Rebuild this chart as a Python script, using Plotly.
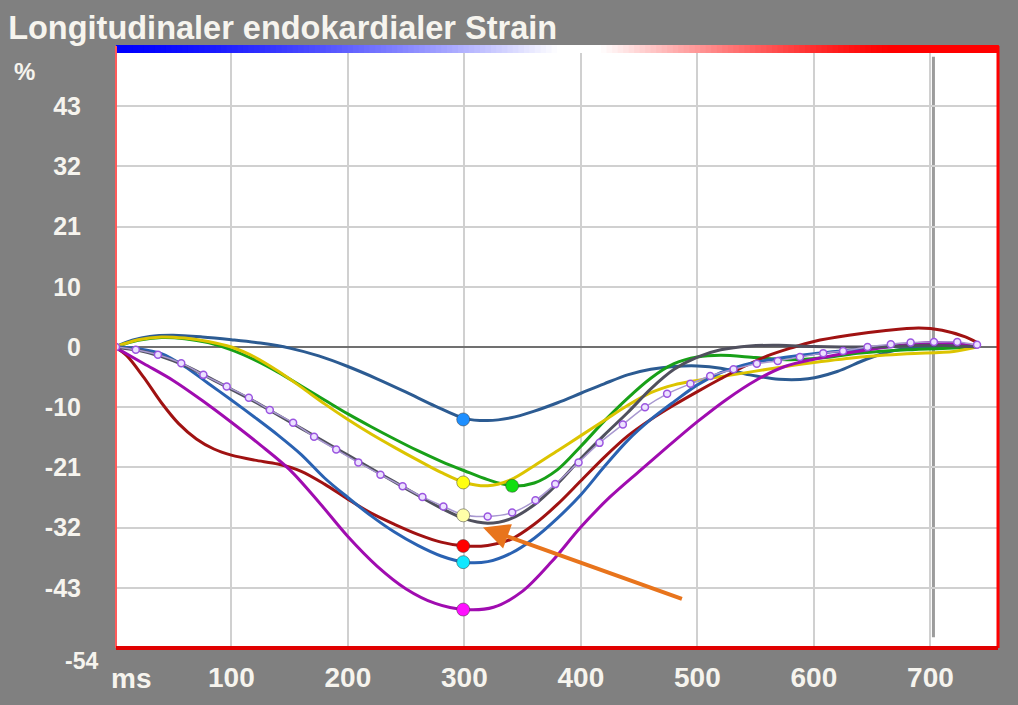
import plotly.graph_objects as go

# ---------------- data (ms, %) ----------------
a_ms = [0, 15, 30, 50, 75, 100, 125, 150, 175, 200, 225, 250, 275, 300, 320, 340, 360, 380, 400, 420, 440, 460, 480, 500, 520, 545, 570, 595, 620, 645, 670, 700, 740]
a_val = [0, 1.2, 1.9, 2.1, 1.8, 1.3, 0.7, -0.2, -1.6, -3.5, -5.7, -8.1, -10.6, -12.8, -13.2, -12.7, -11.5, -10, -8.3, -6.6, -5, -4, -3.5, -3.4, -3.8, -5, -5.8, -5.7, -4.4, -2.2, -0.6, 0, 0]

green_ms = [0, 20, 40, 60, 80, 100, 120, 140, 160, 180, 200, 220, 240, 260, 280, 300, 320, 341, 360, 380, 400, 420, 440, 460, 480, 500, 520, 550, 580, 610, 640, 680, 720, 740]
green_val = [0, 1.2, 1.7, 1.5, 0.8, -0.5, -2.3, -4.5, -7, -9.5, -12, -14.3, -16.5, -18.6, -20.5, -22.2, -23.8, -24.9, -24.4, -22, -17.8, -13.3, -9.2, -5.6, -3, -1.8, -1.5, -1.9, -2.3, -1.9, -1.1, -0.5, -0.2, 0]

yellow_ms = [0, 20, 40, 60, 80, 100, 120, 140, 160, 180, 200, 220, 240, 260, 280, 300, 320, 340, 360, 380, 400, 420, 440, 460, 480, 500, 530, 560, 600, 640, 680, 720, 740]
yellow_val = [0, 1.3, 1.8, 1.6, 1.0, 0, -1.8, -4.3, -7.2, -10.2, -13, -15.6, -18, -20.3, -22.5, -24.3, -24.9, -23.8, -21.3, -18.6, -15.9, -13.2, -10.5, -8.2, -6.8, -6, -5, -4, -2.8, -1.8, -1.2, -0.8, 0]

gray_ms = [0, 20, 40, 60, 80, 100, 120, 140, 160, 180, 200, 220, 240, 260, 280, 300, 320, 340, 360, 380, 400, 420, 440, 460, 480, 500, 520, 545, 570, 600, 650, 700, 740]
gray_val = [0, -0.6, -1.7, -3.3, -5.4, -7.6, -9.8, -12.2, -14.6, -17, -19.4, -21.8, -24.2, -26.6, -28.9, -30.8, -31.6, -30.8, -28.3, -24.5, -20, -15.8, -11.8, -7.5, -4, -1.8, -0.5, 0.2, 0.3, 0.1, 0, 0.3, 0]

avg_ms = [1, 18, 37, 57, 76, 96, 115, 133, 153, 171, 190, 209, 228, 247, 264, 282, 299, 320, 341, 361, 378, 398, 416, 436, 455, 474, 494, 511, 531, 551, 569, 588, 608, 625, 646, 666, 683, 703, 723, 740]
avg_val = [0, -0.5, -1.4, -2.9, -5, -7.1, -9.1, -11.3, -13.6, -16.1, -18.4, -20.7, -22.9, -25, -26.9, -28.6, -30.1, -30.4, -29.7, -27.5, -24.6, -20.7, -17.2, -13.9, -10.8, -8.4, -6.6, -5.2, -4, -3.0, -2.5, -1.8, -1.1, -0.7, 0, 0.5, 0.8, 0.9, 0.9, 0.4]

red_ms = [0, 10, 25, 40, 55, 70, 85, 100, 120, 140, 160, 180, 200, 220, 240, 260, 280, 300, 320, 340, 360, 380, 400, 420, 440, 460, 480, 500, 520, 540, 560, 580, 600, 630, 660, 690, 710, 730, 740]
red_val = [0, -1.5, -5.5, -10, -13.8, -16.5, -18.3, -19.4, -20.3, -21, -22.3, -24.6, -27.3, -29.8, -31.8, -33.6, -35, -35.7, -35.6, -34.5, -31.8, -28.2, -24, -19.8, -16, -13, -10.4, -8, -5.7, -3.5, -1.6, -0.2, 1, 2.1, 2.9, 3.4, 3, 1.8, 0.8]

blue_ms = [0, 20, 40, 60, 80, 100, 120, 140, 160, 180, 200, 220, 240, 260, 280, 300, 320, 340, 360, 380, 400, 420, 440, 460, 480, 500, 520, 540, 570, 600, 640, 680, 710, 740]
blue_val = [0, -0.3, -1.2, -3.5, -6.5, -9.5, -12.6, -15.8, -19.3, -23.5, -27, -30.3, -33.2, -35.6, -37.5, -38.6, -38.5, -37, -34.3, -30.7, -26.5, -21.5, -16.8, -13, -9.8, -6.8, -4.6, -3.2, -2, -1.2, -0.4, 0.3, 0.6, 0]

mag_ms = [0, 25, 50, 75, 100, 125, 150, 175, 200, 225, 250, 275, 300, 325, 350, 375, 400, 425, 450, 475, 500, 525, 550, 575, 600, 625, 650, 675, 700, 725, 740]
mag_val = [0, -3, -6, -9.6, -13.5, -17.6, -22, -27.8, -34, -39.3, -43.4, -46, -47.1, -46.7, -43.8, -38.5, -32.3, -26.9, -22.3, -17.8, -13.4, -9.4, -6, -3.5, -2.2, -1.2, -0.4, 0.3, 0.8, 0.6, 0]

# peak markers (ms, %, colour)
peak_ms = [299, 299, 341, 299, 299, 299, 299]
peak_val = [-13.0, -24.3, -24.9, -30.2, -35.7, -38.6, -47.1]
peak_col = ["#1e8fff", "#ffff10", "#10e010", "#ffffa8", "#ff0000", "#10e8ff", "#ff10ff"]

y_tickvals = [43.2, 32.4, 21.6, 10.8, 0, -10.8, -21.6, -32.4, -43.2]
y_ticktext = ["43", "32", "21", "10", "0", "-10", "-21", "-32", "-43"]
x_tickvals = [100, 200, 300, 400, 500, 600, 700]
x_ticktext = ["100", "200", "300", "400", "500", "600", "700"]

FONT = "Liberation Sans, Arial, sans-serif"
WHITE = "#f6f4ee"

fig = go.Figure()

def add_line(xs, ys, color, width=3):
    fig.add_trace(go.Scatter(x=xs, y=ys, mode="lines",
                             line=dict(color=color, width=width, shape="spline", smoothing=0.9),
                             hoverinfo="skip", showlegend=False))

add_line(a_ms, a_val, "#2c5b92")
add_line(green_ms, green_val, "#18a018")
add_line(yellow_ms, yellow_val, "#dcc400")
add_line(red_ms, red_val, "#a01212")
add_line(blue_ms, blue_val, "#2a62b2")
add_line(mag_ms, mag_val, "#a00cb0")
add_line(gray_ms, gray_val, "#50505e")

fig.add_trace(go.Scatter(x=avg_ms, y=avg_val, mode="lines+markers",
                         line=dict(color="#a898d0", width=1.5, shape="spline", smoothing=0.9),
                         marker=dict(symbol="circle", size=7, color="#ece2ff",
                                     line=dict(color="#9b55e0", width=1.5)),
                         hoverinfo="skip", showlegend=False))

fig.add_trace(go.Scatter(x=peak_ms, y=peak_val, mode="markers",
                         marker=dict(size=13, color=peak_col,
                                     line=dict(color="rgba(60,60,60,0.5)", width=1)),
                         hoverinfo="skip", showlegend=False))

shapes = []
# gradient bar on top
N = 160
for i in range(N):
    fm = (i + 0.5) / N
    if fm < 0.5:
        t = fm / 0.5
        c = int(255 * t ** 1.5)
        col = f"rgb({c},{c},255)"
    elif fm < 0.55:
        col = "rgb(255,255,255)"
    else:
        t = min(1.0, (fm - 0.55) / 0.33)
        c = int(255 * (1 - t) ** 1.3)
        col = f"rgb(255,{c},{c})"
    shapes.append(dict(type="rect", xref="paper", yref="paper",
                       x0=i / N, x1=(i + 1) / N + 0.001, y0=1 - 7 / 602, y1=1 + 1 / 602,
                       fillcolor=col, line=dict(width=0), layer="above"))
# vertical marker line
shapes.append(dict(type="line", xref="x", yref="paper", x0=702.6, x1=702.6, y0=0.018, y1=0.982,
                   line=dict(color="#9c9c9c", width=3), layer="below"))
# frame
shapes.append(dict(type="line", xref="paper", yref="paper", x0=0, x1=0, y0=0, y1=1,
                   line=dict(color="#ff5a5a", width=2)))
shapes.append(dict(type="line", xref="paper", yref="paper", x0=1, x1=1, y0=0, y1=1,
                   line=dict(color="#ff0000", width=3)))
shapes.append(dict(type="line", xref="paper", yref="paper", x0=0, x1=1, y0=0, y1=0,
                   line=dict(color="#e00000", width=4)))

annotations = [
    dict(text="%", xref="paper", yref="paper", x=-104 / 882, y=1 - 26 / 602, xanchor="left",
         yanchor="middle", showarrow=False, font=dict(family=FONT, size=24, color=WHITE, weight="bold")),
    dict(text="-54", xref="paper", yref="paper", x=-16 / 882, y=-13 / 602, xanchor="right",
         yanchor="middle", showarrow=False, font=dict(family=FONT, size=23, color=WHITE, weight="bold")),
    dict(text="ms", xref="x", yref="paper", x=14, y=-30 / 602, xanchor="center",
         yanchor="middle", showarrow=False, font=dict(family=FONT, size=28, color=WHITE, weight="bold")),
    dict(text="", x=316, y=-32.4, xref="x", yref="y", ax=488, ay=-45.3, axref="x", ayref="y",
         showarrow=True, arrowhead=2, arrowsize=1.3, arrowwidth=4, arrowcolor="#e8741c", standoff=0),
]

fig.update_layout(
    width=1018, height=705,
    margin=dict(l=116, r=20, t=46, b=57),
    paper_bgcolor="#808080", plot_bgcolor="#ffffff",
    title=dict(text="Longitudinaler endokardialer Strain", x=0.008, xanchor="left",
               y=1 - 28 / 705, yanchor="middle",
               font=dict(family=FONT, size=32.5, color=WHITE, weight="bold")),
    shapes=shapes, annotations=annotations, showlegend=False,
    xaxis=dict(range=[1, 758], tickvals=x_tickvals, ticktext=x_ticktext,
               showgrid=True, gridcolor="#d0d0d0", gridwidth=1.5, zeroline=False, showline=False,
               ticks="", ticklabelstandoff=10,
               tickfont=dict(family=FONT, size=28, color=WHITE, weight="bold")),
    yaxis=dict(range=[-54, 54], tickvals=y_tickvals, ticktext=y_ticktext,
               showgrid=True, gridcolor="#d0d0d0", gridwidth=1.5,
               zeroline=True, zerolinecolor="#707070", zerolinewidth=2, showline=False,
               ticks="", ticklabelstandoff=34,
               tickfont=dict(family=FONT, size=25, color=WHITE, weight="bold")),
)

fig.write_html("out.html", config={"displayModeBar": False},
               post_script="document.body.style.margin='0';document.body.style.overflow='hidden';")
